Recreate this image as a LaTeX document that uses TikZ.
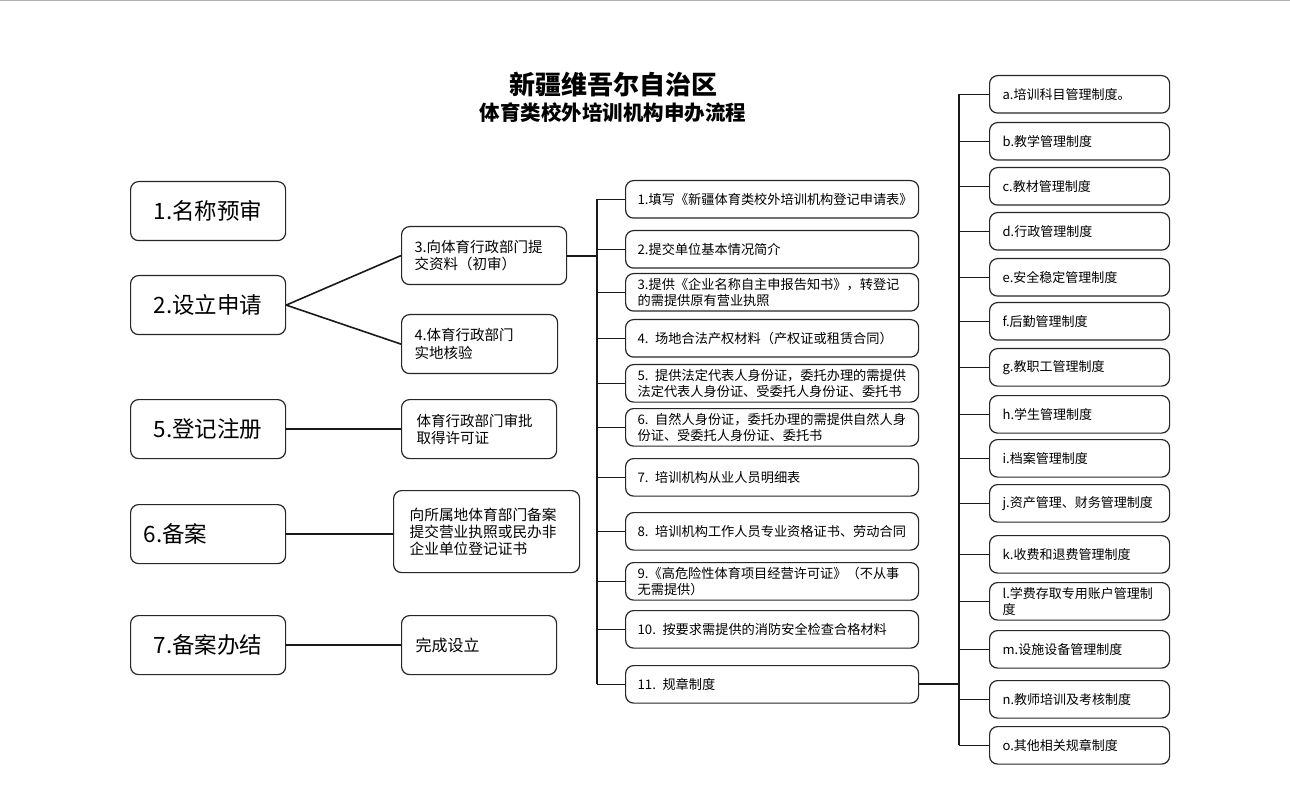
\documentclass[tikz,border=0pt]{standalone}
\usepackage{fontspec}
\setmainfont{Noto Sans CJK SC}
\newcommand{\fs}[2]{\fontsize{#1}{#2}\selectfont}

\begin{document}
\begin{tikzpicture}[x=1pt,y=-1pt]
    \tikzstyle{box}=[draw=black!85,line width=1.2pt,rounded corners=8pt,anchor=north west,inner ysep=0pt]
    \tikzstyle{lbox}=[box,inner xsep=6pt,text width=143pt,minimum height=59pt,align=center,font=\fs{22.5}{26}]
    \tikzstyle{sbox}=[box,align=left,minimum height=59pt,font=\fs{14.5}{17.5}]
    \tikzstyle{mbox}=[box,inner xsep=12pt,text width=269pt,minimum height=37.5pt,align=left,font=\fs{13.2}{16}]
    \tikzstyle{rbox}=[box,inner xsep=13pt,text width=154pt,minimum height=37.5pt,align=left,font=\fs{13}{16}]
    \tikzstyle{conn}=[line width=1.6pt,black!90]
    \tikzstyle{branch}=[line width=1.2pt,black!90]
    \tikzstyle{bus}=[line width=2pt,black!90]

    \useasboundingbox (0,0) rectangle (1290,799);
    \draw[black!30,line width=1.5pt] (0,0.75) -- (1290,0.75);

    % title
    \node (t1) at (613,85) {\fs{26}{28}\bfseries 新疆维吾尔自治区};
    \node (t2) at (613,113) {\fs{20.5}{24}\bfseries 体育类校外培训机构申办流程};

    % steps
    \node[lbox] (l1) at (130,181) {1.名称预审};
    \node[lbox] (l2) at (130,275) {2.设立申请};
    \node[lbox] (l5) at (130,399) {5.登记注册};
    \node[lbox,align=left,inner xsep=13pt,text width=129pt] (l6) at (130,504) {6.备案};
    \node[lbox] (l7) at (130,615) {7.备案办结};

    % second column
    \node[sbox,inner xsep=13pt,text width=139pt,minimum height=58pt] (s3) at (401,226) {3.向体育行政部门提\\交资料（初审）};
    \node[sbox,inner xsep=13pt,text width=130pt] (s4) at (401,314) {4.体育行政部门\\实地核验};
    \node[sbox,inner xsep=15pt,text width=125pt,font=\fs{14.5}{17}] (s5) at (401,399) {体育行政部门审批\\取得许可证};
    \node[sbox,inner xsep=16pt,text width=154pt,minimum height=82pt,font=\fs{14.7}{17}] (s6) at (393,490) {向所属地体育部门备案\\提交营业执照或民办非\\企业单位登记证书};
    \node[sbox,inner xsep=14pt,text width=127pt,font=\fs{16}{18}] (s7) at (401,615) {完成设立};

    \draw[conn] (l2.east) -- (s3.west);
    \draw[conn] (l2.east) -- (s4.west);
    \draw[conn] (l5.east) -- (l5.east -| s5.west);
    \draw[conn] (l6.east) -- (l6.east -| s6.west);
    \draw[conn] (l7.east) -- (l7.east -| s7.west);

    % materials
    \node[mbox] (m1) at (625,180) {1.填写《新疆体育类校外培训机构登记申请表》};
    \node[mbox] (m2) at (625,230) {2.提交单位基本情况简介};
    \node[mbox] (m3) at (625,273) {3.提供《企业名称自主申报告知书》，转登记\\的需提供原有营业执照};
    \node[mbox] (m4) at (625,319) {4. 场地合法产权材料（产权证或租赁合同）};
    \node[mbox] (m5) at (625,364) {5. 提供法定代表人身份证，委托办理的需提供\\法定代表人身份证、受委托人身份证、委托书};
    \node[mbox] (m6) at (625,408) {6. 自然人身份证，委托办理的需提供自然人身\\份证、受委托人身份证、委托书};
    \node[mbox] (m7) at (625,458) {7. 培训机构从业人员明细表};
    \node[mbox] (m8) at (625,512) {8. 培训机构工作人员专业资格证书、劳动合同};
    \node[mbox] (m9) at (625,562) {9.《高危险性体育项目经营许可证》（不从事\\无需提供）};
    \node[mbox] (m10) at (625,610) {10. 按要求需提供的消防安全检查合格材料};
    \node[mbox] (m11) at (625,665) {11. 规章制度};

    \coordinate (busm) at (597,0);
    \draw[bus] (s3.east) -- (s3.east -| busm);
    \draw[bus] (m1.west -| busm) -- (m11.west -| busm);
    \foreach \i in {1,...,11}
        \draw[branch] (m\i.west) -- (m\i.west -| busm);

    % rules
    \node[rbox] (ra) at (989,75)  {a.培训科目管理制度。};
    \node[rbox] (rb) at (989,122) {b.教学管理制度};
    \node[rbox] (rc) at (989,167) {c.教材管理制度};
    \node[rbox] (rd) at (989,212) {d.行政管理制度};
    \node[rbox] (re) at (989,258) {e.安全稳定管理制度};
    \node[rbox] (rf) at (989,302) {f.后勤管理制度};
    \node[rbox] (rg) at (989,348) {g.教职工管理制度};
    \node[rbox] (rh) at (989,395) {h.学生管理制度};
    \node[rbox] (ri) at (989,439) {i.档案管理制度};
    \node[rbox] (rj) at (989,484) {j.资产管理、财务管理制度};
    \node[rbox] (rk) at (989,535) {k.收费和退费管理制度};
    \node[rbox] (rl) at (989,582) {l.学费存取专用账户管理制\\度};
    \node[rbox] (rm) at (989,630) {m.设施设备管理制度};
    \node[rbox] (rn) at (989,680) {n.教师培训及考核制度};
    \node[rbox] (ro) at (989,726) {o.其他相关规章制度};

    \coordinate (busr) at (959,0);
    \draw[bus] (m11.east) -- (m11.east -| busr);
    \draw[bus] (ra.west -| busr) -- (ro.west -| busr);
    \foreach \r in {a,b,c,d,e,f,g,h,i,j,k,l,m,n,o}
        \draw[branch] (r\r.west) -- (r\r.west -| busr);

\end{tikzpicture}
\end{document}
